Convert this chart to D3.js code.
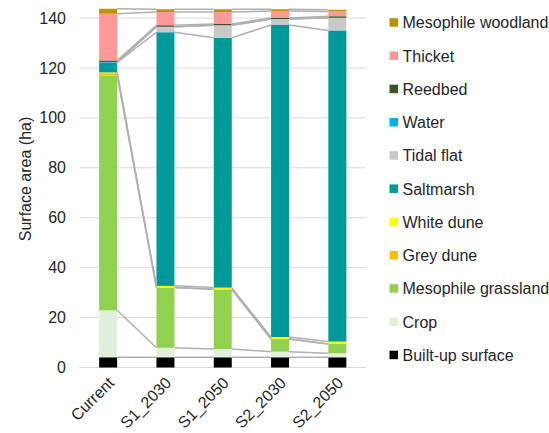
<!DOCTYPE html>
<html>
<head>
<meta charset="utf-8">
<script src="https://cdn.jsdelivr.net/npm/d3@7"></script>
<style>
  body { margin: 0; background: #fff; }
  text { font-family: "Liberation Sans", Arial, sans-serif; }
</style>
</head>
<body>
<script>
var categories = ["Current", "S1_2030", "S1_2050", "S2_2030", "S2_2050"];

// stacked from bottom to top
var series_names = ["Built-up surface", "Crop", "Mesophile grassland", "Grey dune", "White dune",
                    "Saltmarsh", "Tidal flat", "Water", "Reedbed", "Thicket", "Mesophile woodland"];
var series_colors = ["#000000", "#e2efda", "#92d050", "#ffc000", "#ffff00",
                     "#009999", "#c9c9c9", "#00b0f0", "#375623", "#ff9999", "#bf9000"];

var built_up   = [4.1, 4.1, 4.1, 4.1, 4.1];
var crop       = [18.8, 3.8, 3.3, 2.2, 1.6];
var grassland  = [94.0, 24.1, 23.9, 5.1, 3.7];
var grey_dune  = [1.0, 0, 0, 0, 0];
var white_dune = [0.3, 0.7, 0.7, 0.8, 1.0];
var saltmarsh  = [4.0, 101.6, 100.1, 125.0, 124.6];
var tidal_flat = [0, 2.2, 5.0, 2.4, 5.1];
var water      = [0.2, 0, 0, 0, 0];
var reedbed    = [0.6, 0.6, 0.5, 0.4, 0.6];
var thicket    = [18.7, 5.3, 4.8, 2.8, 1.9];
var woodland   = [2.0, 1.1, 1.1, 0.7, 0.7];

var y_ticks = [0, 20, 40, 60, 80, 100, 120, 140];

var series_values = [built_up, crop, grassland, grey_dune, white_dune,
                     saltmarsh, tidal_flat, water, reedbed, thicket, woodland];

var rows = categories.map(function(c, i) {
    var r = { cat: c };
    series_names.forEach(function(s, j) { r[s] = series_values[j][i]; });
    return r;
});

var stack = d3.stack().keys(series_names)(rows);

var text_col = "#262626";
var font_px  = "16px";

var svg = d3.select("body").append("svg")
            .attr("width", 549)
            .attr("height", 433);

var x = d3.scaleBand().domain(categories).range([79.5, 366]).paddingInner(0.686).paddingOuter(0.343);
var y = d3.scaleLinear().domain([0, 140]).range([367.5, 18]);

// gridlines
svg.append("g").selectAll("line")
   .data(y_ticks)
   .enter().append("line")
   .attr("x1", 79.5).attr("x2", 366)
   .attr("y1", function(d) { return y(d); })
   .attr("y2", function(d) { return y(d); })
   .style("stroke", "#d9d9d9")
   .style("stroke-width", 1);

// y axis labels
var yAxis = d3.axisLeft(y).tickValues(y_ticks).tickSize(0).tickPadding(0);
var gy = svg.append("g").attr("transform", "translate(66,0)").call(yAxis);
gy.select(".domain").remove();
gy.selectAll("text").style("font-size", font_px).style("fill", text_col)
  .style("font-family", "'Liberation Sans', Arial, sans-serif");

svg.append("text")
   .attr("transform", "translate(31,179) rotate(-90)")
   .attr("text-anchor", "middle")
   .style("font-size", font_px)
   .style("fill", text_col)
   .text("Surface area (ha)");

// bars
var bw = x.bandwidth();
svg.append("g").selectAll("g")
   .data(stack)
   .enter().append("g")
   .style("fill", function(d, i) { return series_colors[i]; })
   .selectAll("rect")
   .data(function(d) { return d; })
   .enter().append("rect")
   .attr("x", function(d) { return x(d.data.cat); })
   .attr("width", bw)
   .attr("y", function(d) { return y(d[1]); })
   .attr("height", function(d) { return Math.max(0, y(d[0]) - y(d[1])); });

// series lines between bars
var seg = [];
stack.forEach(function(s) {
    for (var i = 0; i < categories.length - 1; i++) {
        seg.push({ x1: x(categories[i]) + bw, y1: y(s[i][1]),
                   x2: x(categories[i + 1]), y2: y(s[i + 1][1]) });
    }
});
svg.append("g").selectAll("line")
   .data(seg)
   .enter().append("line")
   .attr("x1", function(d) { return d.x1; })
   .attr("y1", function(d) { return d.y1; })
   .attr("x2", function(d) { return d.x2; })
   .attr("y2", function(d) { return d.y2; })
   .style("stroke", "#b0b0b0")
   .style("stroke-width", 1.5);

// x labels
svg.append("g").selectAll("text")
   .data(categories)
   .enter().append("text")
   .attr("transform", function(d) {
       return "translate(" + (x(d) + bw / 2 + 3) + ",380) rotate(-45)";
   })
   .attr("text-anchor", "end")
   .attr("dy", "0.35em")
   .style("font-size", font_px)
   .style("fill", text_col)
   .text(function(d) { return d; });

// legend, top to bottom
var legend_order = series_names.slice().reverse();
var leg = svg.append("g").selectAll("g")
   .data(legend_order)
   .enter().append("g")
   .attr("transform", function(d, i) { return "translate(389.5," + (22.7 + i * 33.25) + ")"; });

leg.append("rect")
   .attr("x", 0).attr("y", -4.5)
   .attr("width", 8.5).attr("height", 8.5)
   .style("fill", function(d) { return series_colors[series_names.indexOf(d)]; });

leg.append("text")
   .attr("x", 13)
   .attr("dy", "0.35em")
   .style("font-size", font_px)
   .style("fill", text_col)
   .text(function(d) { return d; });
</script>
</body>
</html>
